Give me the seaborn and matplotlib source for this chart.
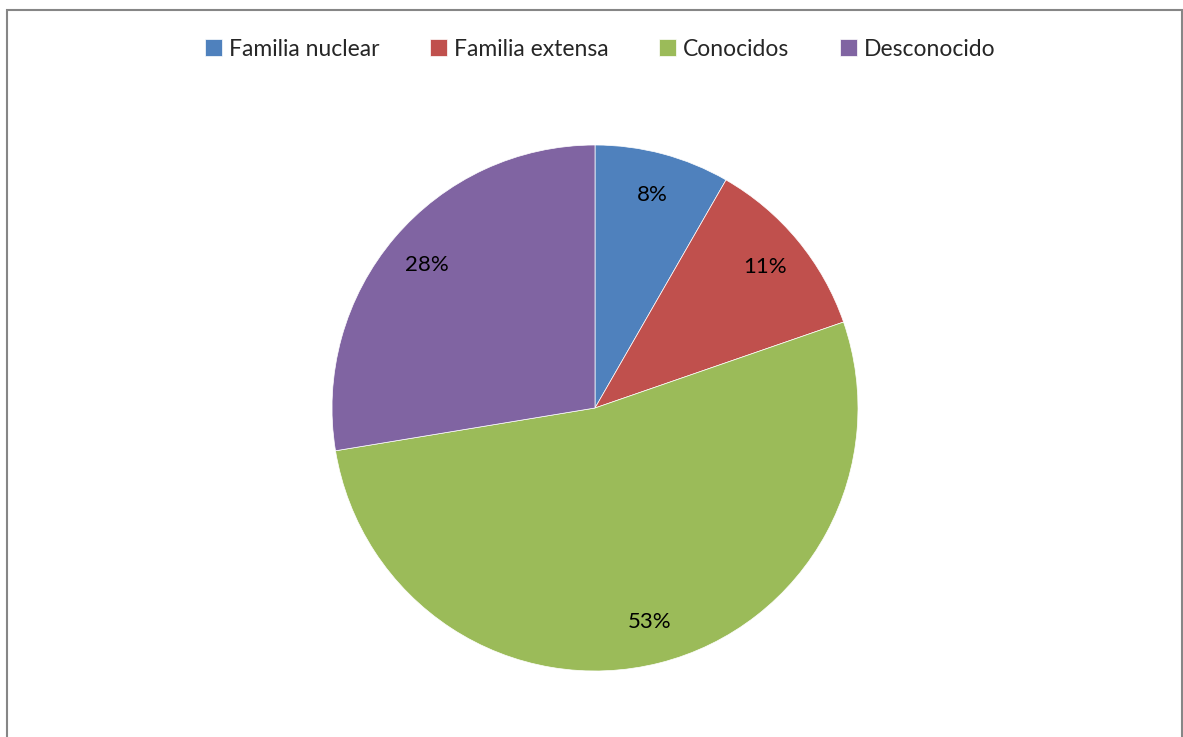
import matplotlib.pyplot as plt
import seaborn as sns
from matplotlib.patches import Rectangle

# Data
categories = ["Familia nuclear", "Familia extensa", "Conocidos", "Desconocido"]
shares = [8.3, 11.4, 52.7, 27.6]
colors = ["#4F81BD", "#C0504D", "#9BBB59", "#8064A2"]

sns.set_theme(style="white")
plt.rcParams["font.family"] = ["Lato", "DejaVu Sans"]

W, H = 1183, 737
fig = plt.figure(figsize=(W / 100, H / 100), dpi=100)

# pie axes placed in pixel coords: center (595, 408), radius 263
cx, cy, r = 595, 408, 263
ax = fig.add_axes([(cx - r) / W, (H - cy - r) / H, 2 * r / W, 2 * r / H])

wedges, texts, autotexts = ax.pie(
    shares,
    colors=colors,
    startangle=90,
    counterclock=False,
    autopct=lambda p: f"{p:.0f}%",
    pctdistance=0.84,
    wedgeprops=dict(edgecolor="white", linewidth=0.5),
    textprops=dict(fontsize=16, color="black"),
)
ax.set_xlim(-1, 1)
ax.set_ylim(-1, 1)
ax.set_aspect("equal")
ax.axis("off")

# legend across the top
fig.legend(
    wedges,
    categories,
    loc="center",
    bbox_to_anchor=(600 / W, 1 - 49 / H),
    ncol=4,
    frameon=False,
    fontsize=16.5,
    handlelength=0.75,
    handleheight=0.75,
    handletextpad=0.3,
    columnspacing=2.2,
)

# chart border
fig.patches.append(
    Rectangle((7 / W, -0.05), (1182 - 7) / W, 1.05 - 10 / H,
              transform=fig.transFigure, fill=False,
              edgecolor="#868686", linewidth=1.5)
)

fig.savefig("out.png", dpi=100, facecolor="white")
